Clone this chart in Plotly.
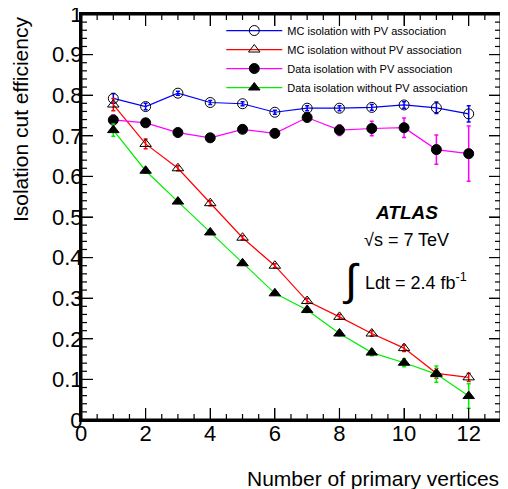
import numpy as np
import plotly.graph_objects as go

n_vertices = [1, 2, 3, 4, 5, 6, 7, 8, 9, 10, 11, 12]

mc_with_pv = [0.792, 0.772, 0.805, 0.782, 0.779, 0.758, 0.768, 0.768, 0.770, 0.776, 0.769, 0.754]
mc_with_pv_err = [0.012, 0.008, 0.005, 0.005, 0.005, 0.005, 0.006, 0.006, 0.007, 0.008, 0.014, 0.020]

mc_without_pv = [0.777, 0.680, 0.620, 0.534, 0.449, 0.380, 0.293, 0.254, 0.213, 0.177, 0.115, 0.105]
mc_without_pv_err = [0.015, 0.012, 0.006, 0.006, 0.005, 0.005, 0.006, 0.006, 0.007, 0.008, 0.012, 0.010]

data_with_pv = [0.739, 0.732, 0.708, 0.695, 0.716, 0.706, 0.745, 0.714, 0.718, 0.720, 0.666, 0.656]
data_with_pv_err = [0.012, 0.006, 0.005, 0.005, 0.006, 0.006, 0.006, 0.013, 0.018, 0.024, 0.036, 0.068]

data_without_pv = [0.714, 0.614, 0.538, 0.462, 0.386, 0.312, 0.271, 0.213, 0.166, 0.141, 0.113, 0.059]
data_without_pv_err = [0.015, 0.006, 0.005, 0.005, 0.005, 0.005, 0.006, 0.006, 0.008, 0.010, 0.020, 0.030]

series = [
    ("MC isolation with PV association", mc_with_pv, mc_with_pv_err, "#0000ff", "circle-open"),
    ("MC isolation without PV association", mc_without_pv, mc_without_pv_err, "#ff0000", "triangle-up-open"),
    ("Data isolation with PV association", data_with_pv, data_with_pv_err, "#ff00ff", "circle"),
    ("Data isolation without PV association", data_without_pv, data_without_pv_err, "#00ee00", "triangle-up"),
]

X_RANGE = [0, 13]
Y_RANGE = [0, 1]
X_MAJOR, X_MINOR = 2, 0.5
Y_MAJOR, Y_MINOR = 0.1, 0.02

FONT = "Liberation Sans"
FRAME = "rgb(1,1,1)"
PLOT_W, PLOT_H = 420, 406  # plot-area size in px

fig = go.Figure()

for name, vals, errs, color, sym in series:
    fig.add_trace(go.Scatter(
        x=n_vertices, y=vals, name=name, mode="lines+markers",
        line=dict(color=color, width=1.2),
        marker=dict(symbol=sym, size=10, color="black", line=dict(color="black", width=1)),
        error_y=dict(type="data", array=errs, color=color, thickness=1.5, width=2),
    ))

# ---- frame and ROOT-style inside ticks on all four sides ----
xs_per_px = (X_RANGE[1] - X_RANGE[0]) / PLOT_W
ys_per_px = (Y_RANGE[1] - Y_RANGE[0]) / PLOT_H
tx, ty = [], []
for v in np.arange(X_RANGE[0], X_RANGE[1] + 1e-9, X_MINOR):
    L = (12 if abs(v / X_MAJOR - round(v / X_MAJOR)) < 1e-6 else 6) * ys_per_px
    tx += [float(v), float(v), None, float(v), float(v), None]
    ty += [Y_RANGE[0], Y_RANGE[0] + L, None, Y_RANGE[1] - L, Y_RANGE[1], None]
for v in np.arange(Y_RANGE[0], Y_RANGE[1] + 1e-9, Y_MINOR):
    L = (12 if abs(v / Y_MAJOR - round(v / Y_MAJOR)) < 1e-6 else 6) * xs_per_px
    tx += [X_RANGE[0], X_RANGE[0] + L, None, X_RANGE[1] - L, X_RANGE[1], None]
    ty += [float(v), float(v), None, float(v), float(v), None]
fig.add_trace(go.Scatter(x=tx, y=ty, mode="lines", line=dict(color=FRAME, width=1.2),
                         showlegend=False, hoverinfo="skip"))
fig.add_trace(go.Scatter(x=[X_RANGE[0], X_RANGE[1], X_RANGE[1], X_RANGE[0], X_RANGE[0]],
                         y=[Y_RANGE[0], Y_RANGE[0], Y_RANGE[1], Y_RANGE[1], Y_RANGE[0]],
                         mode="lines", line=dict(color=FRAME, width=3),
                         showlegend=False, hoverinfo="skip"))

axis_common = dict(ticks="inside", ticklen=12, tickwidth=1, tickcolor=FRAME,
                   showline=True, linewidth=2, linecolor=FRAME, mirror="ticks",
                   showgrid=False, zeroline=False,
                   tickfont=dict(size=22), automargin=False, ticklabeloverflow="allow")

# page body has an 8px margin, so the figure is offset by 8px
fig.update_layout(
    width=500, height=481,
    margin=dict(l=73, r=7, t=6, b=69, autoexpand=False),
    paper_bgcolor="white", plot_bgcolor="white",
    font=dict(family=FONT, color="black"),
    showlegend=True,
    legend=dict(x=0.334, y=0.995, xanchor="left", yanchor="top",
                font=dict(size=11, family=FONT), bgcolor="rgba(0,0,0,0)",
                itemwidth=56),
    xaxis=dict(range=X_RANGE, dtick=X_MAJOR, tick0=0, ticklabelstandoff=-7, **axis_common),
    yaxis=dict(range=Y_RANGE, dtick=Y_MAJOR, tick0=0, ticklabelstandoff=-8, **axis_common),
)

annotations = [
    dict(text="Number of primary vertices", xref="paper", yref="paper", x=1.0, y=-0.143,
         xanchor="right", yanchor="middle", showarrow=False, font=dict(size=21)),
    dict(text="Isolation cut efficiency", xref="paper", yref="paper", x=-0.145, y=1.0,
         xanchor="center", yanchor="top", textangle=-90, showarrow=False, font=dict(size=21)),
    dict(text="<b><i>ATLAS</i></b>", xref="paper", yref="paper", x=0.776, y=0.51,
         xanchor="center", yanchor="middle", showarrow=False, font=dict(size=19)),
    dict(text="√s = 7 TeV", xref="paper", yref="paper", x=0.776, y=0.443,
         xanchor="center", yanchor="middle", showarrow=False, font=dict(size=18)),
    dict(text="∫", xref="paper", yref="paper", x=0.643, y=0.345,
         xanchor="center", yanchor="middle", showarrow=False, font=dict(size=44)),
    dict(text="Ldt = 2.4 fb<sup>-1</sup>", xref="paper", yref="paper", x=0.671, y=0.34,
         xanchor="left", yanchor="middle", showarrow=False, font=dict(size=18)),
]
fig.update_layout(annotations=annotations)

fig.write_html("out.html")
